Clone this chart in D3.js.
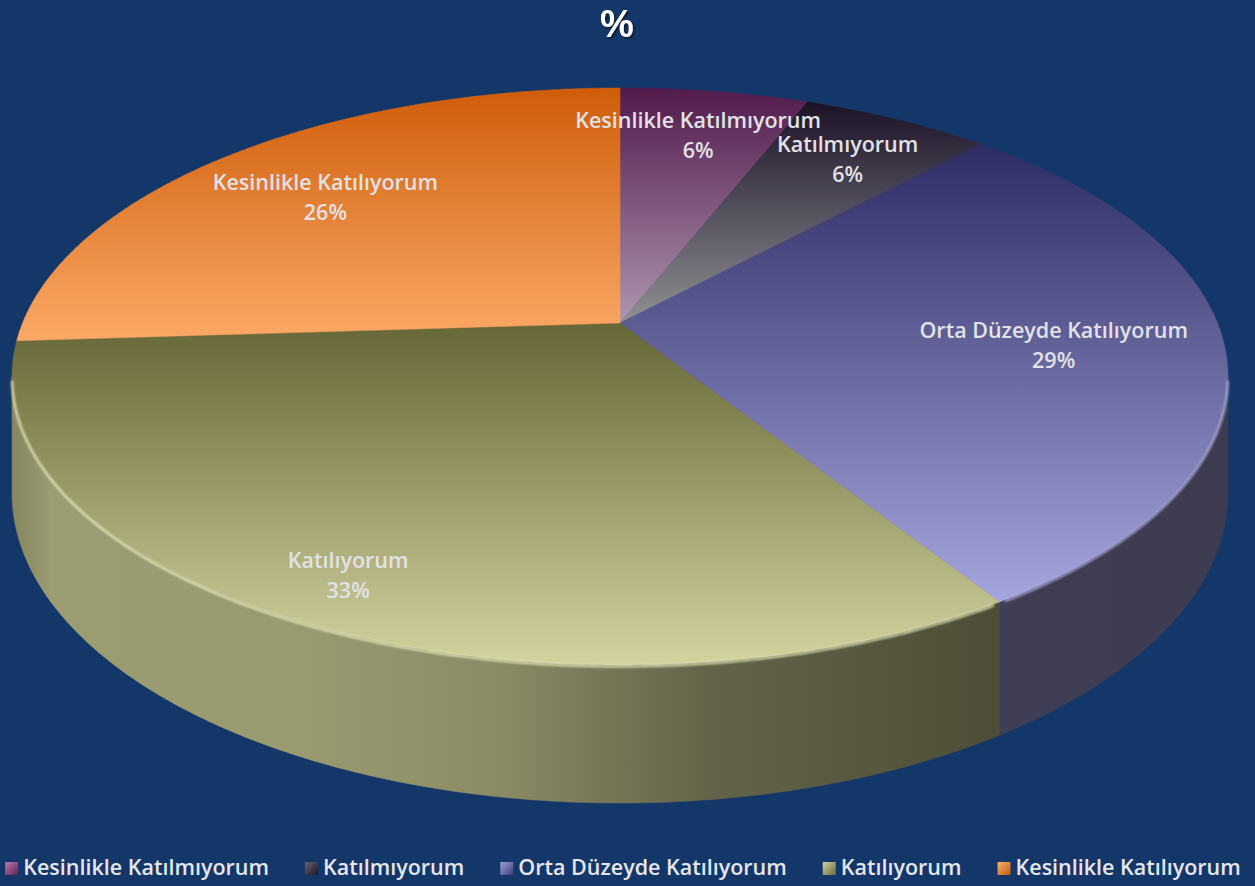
<!DOCTYPE html>
<html>
<head>
<meta charset="utf-8">
<script src="https://cdn.jsdelivr.net/npm/d3@7"></script>
<style>
  html, body { margin: 0; padding: 0; background: #143769; }
  svg { display: block; }
</style>
</head>
<body>
<svg id="chart" width="1255" height="886"></svg>
<script>
// ---- data ----
const categories = ["Kesinlikle Katılmıyorum", "Katılmıyorum", "Orta Düzeyde Katılıyorum", "Katılıyorum", "Kesinlikle Katılıyorum"];
const values = [6, 6, 29, 33, 26];
const percentLabels = ["6%", "6%", "29%", "33%", "26%"];
const title = "%";

// ---- styles ----
const topGrad = [["#521a4c", "#ae96b0"], ["#1b1226", "#909094"], ["#2d2d64", "#a6a6de"], ["#666636", "#d3d3a0"], ["#cf5d0a", "#fba966"]];
const wallGrad = [["#5a3050", "#4a2a44"], ["#2a2432", "#2a2432"], ["#403e54", "#3d3b50"],
                  [["#86865f", 0], ["#9c9c73", 0.04], ["#9a9a71", 0.3], ["#8a8a64", 0.5], ["#64644a", 0.7], ["#4e4e38", 1]], ["#c06020", "#a05018"]];
const legendGrad = [["#c07ab0", "#5a2050"], ["#6a6070", "#1c1626"], ["#a0a0d8", "#3a3a78"], ["#d0d0a0", "#6a6a3a"], ["#fbb070", "#c05a10"]];
const labelRadius = [0.8, 0.8, 0.72, 0.86, 0.74];

const W = 1255, H = 886;
const svg = d3.select("#chart");
svg.append("rect").attr("width", W).attr("height", H).attr("fill", "#143769");
const defs = svg.append("defs");

// perspective projection of the pie disk
const cx = 620, cy = 323, A = 597.4, B = 278.6, p = 0.1854, depth = 112.4;
function proj(theta, r, t) {
  const x = r * Math.sin(theta), z = -r * Math.cos(theta);
  const den = 1 - p * z;
  return [cx + A * x / den, cy + (B * z + depth * t) / den];
}

const pie = d3.pie().sort(null).value(d => d)(values);
const step = Math.PI / 360;
function arcPts(a0, a1, t) {
  const n = Math.max(2, Math.ceil((a1 - a0) / step));
  return d3.range(n + 1).map(i => proj(a0 + (a1 - a0) * i / n, 1, t));
}
const line = d3.line();

// visible wall range
const vis0 = Math.PI / 2 + Math.asin(p), vis1 = 3 * Math.PI / 2 - Math.asin(p);

// gradients
pie.forEach((s, i) => {
  const g = defs.append("linearGradient").attr("id", "top" + i).attr("x1", 0).attr("y1", 0).attr("x2", 0).attr("y2", 1);
  g.append("stop").attr("offset", 0).attr("stop-color", topGrad[i][0]);
  g.append("stop").attr("offset", 1).attr("stop-color", topGrad[i][1]);
  const w = defs.append("linearGradient").attr("id", "wall" + i).attr("x1", 0).attr("y1", 0).attr("x2", 1).attr("y2", 0);
  const wg = wallGrad[i];
  if (Array.isArray(wg[0])) wg.forEach(s => w.append("stop").attr("offset", s[1]).attr("stop-color", s[0]));
  else { w.append("stop").attr("offset", 0).attr("stop-color", wg[0]); w.append("stop").attr("offset", 1).attr("stop-color", wg[1]); }
  const lg = defs.append("linearGradient").attr("id", "leg" + i).attr("x1", 0).attr("y1", 0).attr("x2", 1).attr("y2", 1);
  lg.append("stop").attr("offset", 0).attr("stop-color", legendGrad[i][0]);
  lg.append("stop").attr("offset", 1).attr("stop-color", legendGrad[i][1]);
});
const blur = defs.append("filter").attr("id", "soft");
blur.append("feGaussianBlur").attr("stdDeviation", 0.8);
const shadow = defs.append("filter").attr("id", "tshadow").attr("x", -0.5).attr("y", -0.5).attr("width", 2).attr("height", 2);
shadow.append("feDropShadow").attr("dx", 1.5).attr("dy", 1.5).attr("stdDeviation", 1.2).attr("flood-color", "#000").attr("flood-opacity", 0.6);

// walls
const gWall = svg.append("g");
pie.forEach((s, i) => {
  const a0 = Math.max(s.startAngle, vis0), a1 = Math.min(s.endAngle, vis1);
  if (a1 <= a0) return;
  const topPts = arcPts(a0, a1, 0), botPts = arcPts(a0, a1, 1).reverse();
  gWall.append("path").attr("d", line(topPts.concat(botPts)) + "Z")
    .attr("fill", `url(#wall${i})`).attr("stroke", `url(#wall${i})`).attr("stroke-width", 0.6);
});

// tops
const gTop = svg.append("g");
pie.forEach((s, i) => {
  const pts = [[cx, cy]].concat(arcPts(s.startAngle, s.endAngle, 0));
  gTop.append("path").attr("d", line(pts) + "Z").attr("fill", `url(#top${i})`)
    .attr("stroke", `url(#top${i})`).attr("stroke-width", 0.5);
});

// rim highlight on front edge
pie.forEach((s, i) => {
  const a0 = Math.max(s.startAngle, vis0), a1 = Math.min(s.endAngle, vis1);
  if (a1 <= a0) return;
  const col = i === 3 ? "#f4f4c8" : "#b8b8e8";
  svg.append("path").attr("d", line(arcPts(a0 + 0.01, a1 - 0.01, 0.01)))
    .attr("fill", "none").attr("stroke", col).attr("stroke-width", 2.2).attr("opacity", 0.85).attr("filter", "url(#soft)");
});

// labels
const font = "'Open Sans', Lato, sans-serif";
const gLab = svg.append("g").attr("font-family", font).attr("font-weight", 600).attr("font-size", 21.5)
  .attr("fill", "#e2e2e6").attr("text-anchor", "middle");
pie.forEach((s, i) => {
  const mid = (s.startAngle + s.endAngle) / 2;
  const [lx, ly] = proj(mid, labelRadius[i], 0);
  const t = gLab.append("text").attr("x", lx).attr("y", ly - 4);
  t.append("tspan").attr("x", lx).attr("dy", 0).text(categories[i]);
  t.append("tspan").attr("x", lx).attr("dy", 30).text(percentLabels[i]);
});

// title
svg.append("text").attr("x", 617).attr("y", 37).attr("text-anchor", "middle")
  .attr("font-family", "'Liberation Sans', Arial, sans-serif").attr("font-weight", 700).attr("font-size", 38)
  .attr("fill", "#ffffff").attr("filter", "url(#tshadow)").text(title);

// legend
const gLeg = svg.append("g").attr("font-family", font).attr("font-weight", 600).attr("font-size", 21.5).attr("fill", "#e6e6ea");
const items = categories.map((c, i) => {
  const g = gLeg.append("g");
  g.append("rect").attr("x", 0).attr("y", -13).attr("width", 13).attr("height", 13).attr("fill", `url(#leg${i})`);
  const t = g.append("text").attr("x", 18).attr("y", 0).text(c);
  return { g, w: 18 + t.node().getComputedTextLength() };
});
const gap = 36;
const total = d3.sum(items, d => d.w) + gap * (items.length - 1);
let xx = 623 - total / 2;
items.forEach(it => { it.g.attr("transform", `translate(${xx},875)`); xx += it.w + gap; });
</script>
</body>
</html>
